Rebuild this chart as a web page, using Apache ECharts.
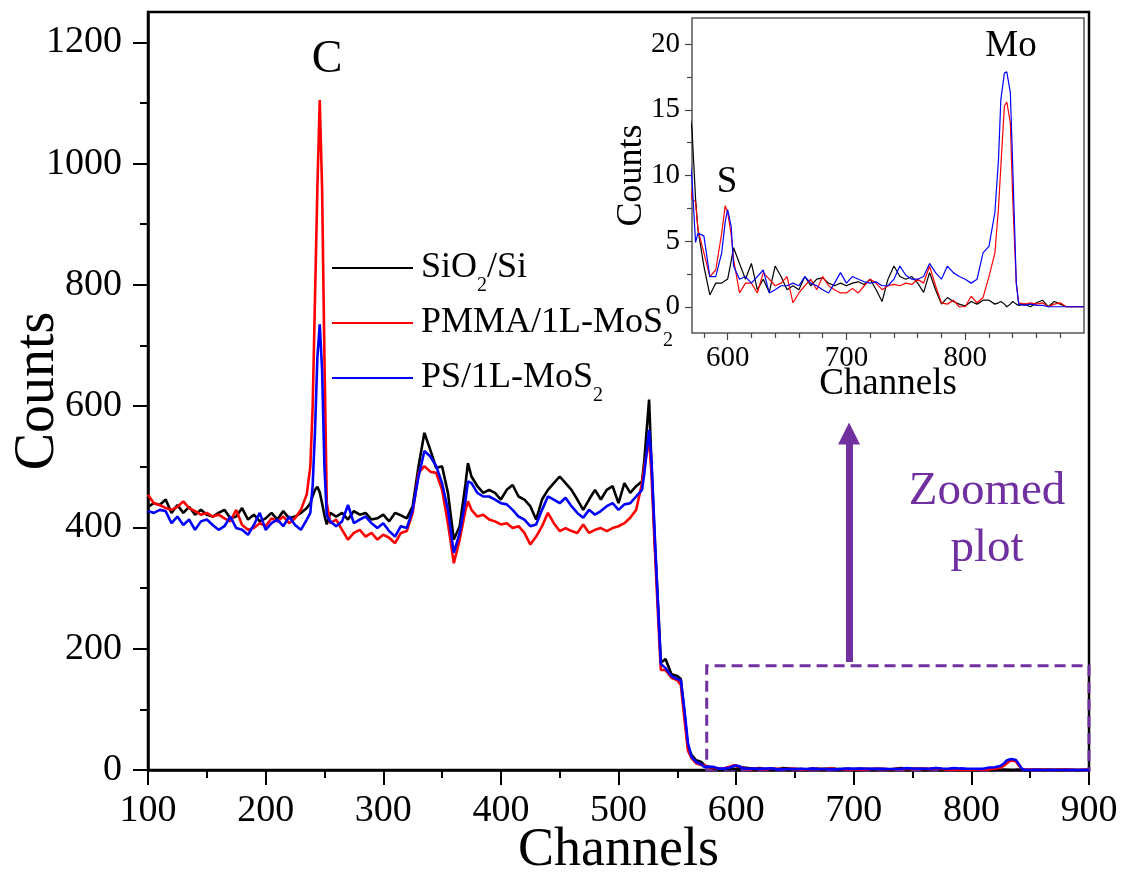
<!DOCTYPE html>
<html lang="en">
<head>
    <meta charset="utf-8" />
    <title>RBS spectra</title>
    <script src="https://cdn.jsdelivr.net/npm/echarts@6.0.0/dist/echarts.min.js"></script>
    <style>
        html, body { margin: 0; padding: 0; background: #fff; }
    </style>
</head>
<body>
    <div id="main" style="width: 1122px;height:877px;"></div>
    <script type="text/javascript">

        // channel positions (x) shared by all three spectra
        var channels = [
            100, 105, 110, 115, 120, 125, 130, 135, 140, 145,
            150, 155, 160, 165, 170, 175, 180, 185, 190, 195,
            200, 205, 210, 215, 220, 225, 230,
            235, 238, 240, 242, 244, 246, 248, 250, 252,
            255, 260, 265, 270, 275, 280, 285, 290, 295, 300,
            305, 310, 315, 320, 325, 330, 335, 340, 345, 350,
            355, 360, 365, 370, 372,
            375, 380, 385, 390, 395, 400, 405, 410, 415, 420,
            425, 430, 435, 440, 445, 450, 455, 460, 465, 470,
            475, 480, 485, 490, 495, 500, 505, 510, 515, 520,
            522, 526, 528, 531, 534, 536, 540, 545, 550, 553, 556, 559, 562, 566,
            570, 573, 575, 580, 585, 590, 595, 598, 600, 603,
            605, 610, 615, 620, 625, 630, 635, 640, 645, 650,
            655, 660, 665, 670, 675, 680, 685, 690, 695, 700,
            705, 710, 715, 720, 725, 730, 735, 740, 745, 750,
            755, 760, 765, 770, 775, 780, 785, 790, 795, 800,
            805, 810, 815, 820, 825,
            828, 830, 833, 835, 838, 840, 843,
            845, 850, 855, 860, 865, 870, 875, 880, 885, 890, 895, 900
        ];

        var sio2Counts = [
            434, 440, 437, 446, 424, 437, 424, 434, 421, 429,
            421, 418, 424, 429, 415, 418, 432, 413, 421, 410,
            415, 424, 413, 427, 415, 418, 424,
            432, 440, 452, 462, 467, 458, 440, 420, 405,
            424, 418, 424, 413, 427, 421, 424, 413, 415, 421,
            410, 424, 420, 415, 435, 501, 556, 528, 498, 501,
            457, 380, 402, 473, 506,
            484, 468, 457, 462, 457, 446, 462, 470, 451, 446,
            435, 413, 446, 462, 473, 484, 473, 462, 446, 429,
            446, 462, 446, 462, 468, 440, 473, 457, 468, 476,
            512, 611, 507, 369, 259, 177, 183, 158, 155, 150, 94, 38, 25, 16,
            13.5, 8.2, 5.9, 3.1, 0.9, 1.8, 1.8, 2.0, 2.1, 3.5,
            4.5, 3.3, 2.1, 3.3, 1.3, 2.1, 1.1, 3.1, 2.3, 1.3,
            1.6, 1.3, 2.3, 1.6, 2.1, 2.2, 1.8, 1.6, 1.8, 1.6,
            1.8, 1.9, 1.7, 2.1, 1.3, 0.4, 2.1, 3.1, 2.3, 2.1,
            2.3, 1.8, 1.1, 2.6, 1.3, 0.2, 0.7, 0.4, 0.2, 0.05,
            0.4, 0.2, 0.5, 0.5, 0.2,
            0.3, 0.4, 0.2, 0, 0.2, 0.4, 0.2,
            0.1, 0.2, 0, 0.3, 0.5, 0, 0.4, 0.2, 0, 0, 0, 0
        ];

        var pmmaCounts = [
            454, 440, 437, 432, 429, 434, 443, 432, 427, 421,
            424, 418, 421, 415, 410, 429, 404, 396, 399, 407,
            402, 415, 410, 418, 407, 415, 429,
            455, 500, 600, 780, 960, 1105, 960, 680, 440,
            407, 413, 396, 380, 391, 396, 385, 391, 380, 388,
            383, 374, 391, 394, 424, 490, 501, 492, 490, 462,
            407, 341, 380, 429, 443,
            429, 418, 421, 413, 410, 405, 407, 399, 402, 391,
            372, 385, 402, 424, 407, 394, 399, 394, 391, 405,
            391, 396, 399, 394, 399, 402, 407, 416, 429, 473,
            501, 545, 490, 360, 240, 165, 165, 152, 148, 140, 85, 32, 20, 11,
            8.2, 8.0, 5.9, 4.1, 2.3, 2.8, 5.6, 7.7, 7.2, 5.5,
            3.6, 1.05, 1.8, 1.8, 1.05, 2.6, 2.1, 1.6, 1.8, 2.3,
            0.3, 1.05, 1.6, 2.1, 1.3, 2.3, 1.6, 1.3, 1.05, 1.05,
            1.4, 1.05, 1.6, 2.1, 1.8, 1.3, 1.6, 1.7, 1.6, 1.8,
            1.7, 2.1, 1.8, 3.1, 1.6, 0.3, 0.2, 0.5, 0, 0,
            0.8, 0.3, 0.7, 2.3, 4.1,
            7.5, 10.7, 15.3, 15.6, 14.0, 8.2, 1.8,
            0.3, 0.2, 0.3, 0.2, 0.3, 0, 0.2, 0.3, 0, 0, 0, 0
        ];

        var psCounts = [
            427, 424, 429, 427, 407, 418, 404, 413, 396, 410,
            413, 404, 396, 402, 418, 399, 396, 388, 404, 424,
            396, 407, 413, 402, 418, 404, 396,
            413, 424, 470, 560, 680, 735, 660, 500, 420,
            410, 402, 410, 437, 407, 413, 418, 407, 399, 407,
            394, 385, 402, 399, 429, 484, 526, 517, 501, 473,
            429, 358, 391, 446, 476,
            473, 457, 451, 451, 446, 440, 438, 429, 418, 413,
            402, 405, 429, 451, 446, 440, 449, 435, 424, 416,
            429, 421, 427, 435, 440, 429, 438, 440, 451, 462,
            490, 561, 512, 380, 255, 175, 168, 155, 150, 148, 100, 45, 22, 13,
            9.7, 4.9, 5.6, 5.4, 2.3, 2.3, 4.1, 6.5, 7.4, 6.1,
            3.1, 2.1, 2.3, 1.8, 2.3, 2.8, 1.05, 1.3, 1.6, 1.6,
            1.8, 1.6, 2.3, 1.8, 1.6, 1.3, 1.05, 1.8, 2.6, 1.8,
            2.3, 2.1, 1.9, 1.8, 1.9, 1.6, 1.6, 2.1, 3.1, 2.4,
            2.1, 2.1, 2.3, 3.3, 2.6, 2.1, 3.1, 2.6, 2.3, 2.1,
            1.8, 2.1, 4.1, 4.6, 7.2,
            11.2, 15.8, 17.8, 17.9, 16.3, 10.7, 1.8,
            0.2, 0.1, 0.2, 0.1, 0.1, 0, 0, 0, 0, 0, 0, 0
        ];

        var seriesNames = ['SiO2/Si', 'PMMA/1L-MoS2', 'PS/1L-MoS2'];
        var seriesColors = ['#000000', '#ff0000', '#0000ff'];
        var seriesCounts = [sio2Counts, pmmaCounts, psCounts];

        // tick labels
        var mainYTicks = [0, 200, 400, 600, 800, 1000, 1200];
        var mainYMinor = [100, 300, 500, 700, 900, 1100];
        var insetXTicks = [600, 700, 800];
        var insetXMinor = [580, 620, 640, 660, 680, 720, 740, 760, 780, 820, 840, 860, 880];
        var insetYTicks = [0, 5, 10, 15, 20];
        var insetYMinor = [2.5, 7.5, 12.5, 17.5];

        // zoom box and arrow (data coords)
        var zoomBox = [[575, 0], [900, 172]];
        var arrowLine = [[696, 178], [696, 555]];

        var purple = '#7030A0';
        var serif = 'Liberation Serif';

        channels.length === sio2Counts.length && channels.length === pmmaCounts.length && channels.length === psCounts.length
            || console.log('length mismatch', channels.length, sio2Counts.length, pmmaCounts.length, psCounts.length);

        function pairs(arr) {
            return channels.map(function (c, i) { return [c, arr[i]]; });
        }

        function plain(v) { return String(v); }

        var legendLabels = {
            'SiO2/Si': '{n|SiO}{s|2}{n|/Si}',
            'PMMA/1L-MoS2': '{n|PMMA/1L-MoS}{s|2}',
            'PS/1L-MoS2': '{n|PS/1L-MoS}{s|2}'
        };

        var series = [];
        seriesNames.forEach(function (name, k) {
            var s = {
                name: name,
                type: 'line',
                xAxisIndex: 0,
                yAxisIndex: 0,
                data: pairs(seriesCounts[k]),
                symbol: 'none',
                showSymbol: false,
                lineStyle: { color: seriesColors[k], width: 2.6 },
                itemStyle: { color: seriesColors[k] },
                emphasis: { disabled: true },
                animation: false,
                z: 3
            };
            if (k === 0) {
                s.markArea = {
                    silent: true,
                    itemStyle: {
                        color: 'rgba(0,0,0,0)',
                        borderColor: purple,
                        borderWidth: 3,
                        borderType: [11, 6]
                    },
                    label: { show: false },
                    data: [[{ coord: zoomBox[0] }, { coord: zoomBox[1] }]]
                };
                s.markLine = {
                    silent: true,
                    symbol: ['none', 'triangle'],
                    symbolSize: [22, 22],
                    lineStyle: { color: purple, width: 7, type: 'solid' },
                    label: { show: false },
                    data: [[{ coord: arrowLine[0] }, { coord: arrowLine[1] }]]
                };
            }
            series.push(s);
        });
        seriesNames.forEach(function (name, k) {
            series.push({
                name: name,
                type: 'line',
                xAxisIndex: 1,
                yAxisIndex: 2,
                data: pairs(seriesCounts[k]),
                symbol: 'none',
                showSymbol: false,
                clip: true,
                lineStyle: { color: seriesColors[k], width: 1.2 },
                itemStyle: { color: seriesColors[k] },
                emphasis: { disabled: true },
                animation: false,
                z: 3
            });
        });

        var myChart = echarts.init(document.getElementById('main'));

        var option = {
            animation: false,
            textStyle: { fontFamily: serif, color: '#000' },
            grid: [
                {
                    left: 148, top: 12, width: 941, height: 758,
                    show: true, borderColor: '#000', borderWidth: 2.5,
                    backgroundColor: 'transparent',
                    containLabel: false, outerBoundsMode: 'none'
                },
                {
                    left: 692, top: 18, width: 392, height: 315,
                    show: true, borderColor: '#555', borderWidth: 1.5,
                    backgroundColor: '#fff',
                    containLabel: false, outerBoundsMode: 'none'
                }
            ],
            legend: {
                data: seriesNames,
                orient: 'vertical',
                left: 332,
                top: 246,
                padding: 0,
                icon: 'rect',
                itemWidth: 81,
                itemHeight: 2.2,
                itemGap: 5,
                selectedMode: false,
                formatter: function (name) { return legendLabels[name]; },
                textStyle: {
                    color: '#000',
                    padding: [0, 0, 0, 3],
                    rich: {
                        n: { fontFamily: serif, fontSize: 36, lineHeight: 44, color: '#000', verticalAlign: 'middle' },
                        s: { fontFamily: serif, fontSize: 20, lineHeight: 20, color: '#000', verticalAlign: 'top', padding: [30, 0, 0, 0] }
                    }
                }
            },
            xAxis: [
                {
                    type: 'value', gridIndex: 0, position: 'bottom',
                    min: 100, max: 900, interval: 100,
                    name: 'Channels', nameLocation: 'middle', nameGap: 54, nameMoveOverlap: false,
                    nameTextStyle: { fontFamily: serif, fontSize: 54, color: '#000' },
                    axisLine: { show: true, onZero: false, lineStyle: { color: '#000', width: 2.5 } },
                    axisTick: { show: true, length: 15, lineStyle: { color: '#000', width: 2 } },
                    minorTick: { show: true, splitNumber: 2, length: 8, lineStyle: { color: '#000', width: 2 } },
                    axisLabel: { fontFamily: serif, fontSize: 38, color: '#000', margin: 22, formatter: plain },
                    splitLine: { show: false }
                },
                {
                    type: 'value', gridIndex: 1, position: 'bottom',
                    min: 570, max: 900,
                    name: 'Channels', nameLocation: 'middle', nameGap: 33, nameMoveOverlap: false,
                    nameTextStyle: { fontFamily: serif, fontSize: 37, color: '#000' },
                    axisLine: { show: false, onZero: false },
                    axisTick: { show: true, length: 7, customValues: insetXTicks, lineStyle: { color: '#444', width: 1.2 } },
                    axisLabel: { fontFamily: serif, fontSize: 29, color: '#000', margin: 11, customValues: insetXTicks, formatter: plain },
                    splitLine: { show: false }
                },
                {
                    type: 'value', gridIndex: 1, position: 'bottom',
                    min: 570, max: 900,
                    axisLine: { show: false, onZero: false },
                    axisTick: { show: true, length: 5, customValues: insetXMinor, lineStyle: { color: '#444', width: 1.2 } },
                    axisLabel: { show: false },
                    splitLine: { show: false }
                }
            ],
            yAxis: [
                {
                    type: 'value', gridIndex: 0, position: 'left',
                    min: 0, max: 1250,
                    name: 'Counts', nameLocation: 'middle', nameGap: 82, nameMoveOverlap: false,
                    nameTextStyle: { fontFamily: serif, fontSize: 56, color: '#000' },
                    axisLine: { show: true, onZero: false, lineStyle: { color: '#000', width: 2.5 } },
                    axisTick: { show: true, length: 15, customValues: mainYTicks, lineStyle: { color: '#000', width: 2 } },
                    axisLabel: { fontFamily: serif, fontSize: 38, color: '#000', margin: 26, customValues: mainYTicks, formatter: plain },
                    splitLine: { show: false }
                },
                {
                    type: 'value', gridIndex: 0, position: 'left',
                    min: 0, max: 1250,
                    axisLine: { show: false, onZero: false },
                    axisTick: { show: true, length: 8, customValues: mainYMinor, lineStyle: { color: '#000', width: 2 } },
                    axisLabel: { show: false },
                    splitLine: { show: false }
                },
                {
                    type: 'value', gridIndex: 1, position: 'left',
                    min: -2, max: 22,
                    name: 'Counts', nameLocation: 'middle', nameGap: 42, nameMoveOverlap: false,
                    nameTextStyle: { fontFamily: serif, fontSize: 36, color: '#000' },
                    axisLine: { show: false, onZero: false },
                    axisTick: { show: true, length: 7, customValues: insetYTicks, lineStyle: { color: '#444', width: 1.2 } },
                    axisLabel: { fontFamily: serif, fontSize: 29, color: '#000', margin: 12, customValues: insetYTicks, formatter: plain },
                    splitLine: { show: false }
                },
                {
                    type: 'value', gridIndex: 1, position: 'left',
                    min: -2, max: 22,
                    axisLine: { show: false, onZero: false },
                    axisTick: { show: true, length: 5, customValues: insetYMinor, lineStyle: { color: '#444', width: 1.2 } },
                    axisLabel: { show: false },
                    splitLine: { show: false }
                }
            ],
            graphic: [
                {
                    type: 'text', x: 327, y: 60, z: 100,
                    style: { text: 'C', font: '46px "Liberation Serif"', fill: '#000', textAlign: 'center', textVerticalAlign: 'middle' }
                },
                {
                    type: 'text', x: 727, y: 182, z: 100,
                    style: { text: 'S', font: '37px "Liberation Serif"', fill: '#000', textAlign: 'center', textVerticalAlign: 'middle' }
                },
                {
                    type: 'text', x: 1011, y: 46, z: 100,
                    style: { text: 'Mo', font: '37px "Liberation Serif"', fill: '#000', textAlign: 'center', textVerticalAlign: 'middle' }
                },
                {
                    type: 'text', x: 987, y: 463, z: 100,
                    style: {
                        text: 'Zoomed\nplot', font: '47px "Liberation Serif"', fill: purple,
                        textAlign: 'center', textVerticalAlign: 'top', lineHeight: 57
                    }
                }
            ],
            series: series
        };

        myChart.setOption(option);

    </script>
</body>
</html>
